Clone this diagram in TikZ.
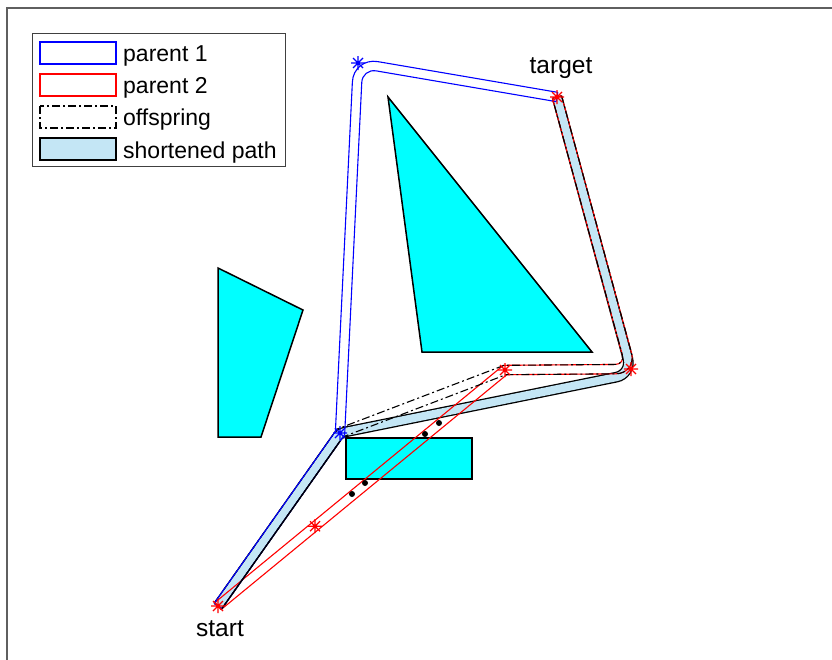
\documentclass[tikz,border=0pt]{standalone}
\usepackage{fontspec}
\setmainfont{Liberation Sans}
\usetikzlibrary{calc}

\definecolor{obst}{RGB}{0,255,255}
\definecolor{pathfill}{RGB}{196,230,245}
\definecolor{framegray}{RGB}{95,95,95}

% left (L) and right (R) offset lines of the segment #2 -> #3
\newcommand\offseg[3]{%
  \coordinate (#1aL) at ($(#2)!4.7pt!90:(#3)$);
  \coordinate (#1bL) at ($(#3)!4.7pt!-90:(#2)$);
  \coordinate (#1aR) at ($(#2)!4.7pt!-90:(#3)$);
  \coordinate (#1bR) at ($(#3)!4.7pt!90:(#2)$);}
% corner points of the offset lines where segment #2 meets segment #3
\newcommand\offcorner[3]{%
  \coordinate (#1L) at (intersection cs: first line={(#2aL)--(#2bL)}, second line={(#3aL)--(#3bL)});
  \coordinate (#1R) at (intersection cs: first line={(#2aR)--(#2bR)}, second line={(#3aR)--(#3bR)});}

\tikzset{
  obstacle/.style={fill=obst, draw=black, line width=1.5pt, line join=miter},
  p1edge/.style={draw=blue, line width=1.1pt},
  p2edge/.style={draw=red, line width=1.1pt},
  offedge/.style={draw=black, line width=1.1pt, dash pattern=on 8pt off 3pt on 2pt off 3pt},
  shortpath/.style={draw=black, line width=1.3pt, double=pathfill, double distance=8.1pt},
  shortedge/.style={draw=black, line width=1.3pt},
  mstar/.pic={\draw[line width=1.3pt] (-7,0) -- (7,0) (0,-7) -- (0,7)
      (-5,-5) -- (5,5) (-5,5) -- (5,-5);},
  dot/.style={circle, fill=black, inner sep=0pt, minimum size=6pt},
  lbl/.style={font=\fontsize{24.5}{28}\selectfont, inner sep=0pt, anchor=base},
  legtext/.style={font=\fontsize{23}{26}\selectfont, inner sep=0pt, anchor=base west},
}

\begin{document}
\begin{tikzpicture}[x=1pt,y=-1pt]
\useasboundingbox (0,0) rectangle (832,659);
\clip (0,0) rectangle (832,659);

% axes frame
\draw[framegray, line width=1.6pt] (7,8) rectangle (860,690);

% obstacles
\draw[obstacle] (218,268) -- (303,310) -- (261,437) -- (218,437) -- cycle;
\draw[obstacle] (388,97) -- (592,352) -- (422,352) -- cycle;
\draw[obstacle] (346,438) rectangle (472,479);

% way points
\coordinate (S) at (218,606);
\coordinate (J) at (340,433);
\coordinate (A) at (358,63);
\coordinate (T) at (557,97);
\coordinate (M) at (505,370);
\coordinate (R) at (631,369);
\coordinate (Rs) at (632,374);
\coordinate (Q) at ($(S)!0.338!(M)$);

% shortened path
\draw[shortpath] (S) [rounded corners=5pt] -- (J) [rounded corners=16pt] -- (Rs) [sharp corners] -- (T);
\offseg{sh1}{S}{J}
\offseg{sh3}{Rs}{T}
\draw[shortedge] (sh1aL) -- (sh1aR);
\draw[shortedge] (sh3bL) -- (sh3bR);

% parent 2
\offseg{pa}{S}{M}
\offseg{pb}{M}{R}
\offseg{pc}{R}{T}
\offcorner{pm}{pa}{pb}
\offcorner{pr}{pb}{pc}
\draw[p2edge] (paaL) -- (pmL) [rounded corners=9.5pt] -- (prL) [sharp corners] -- (pcbL);
\draw[p2edge] (paaR) -- (pmR) [rounded corners=21.7pt] -- (prR) [sharp corners] -- (pcbR);
\draw[p2edge] (paaL) -- (paaR) (pcbL) -- (pcbR);

% offspring
\offseg{oa}{S}{J}
\offseg{ob}{J}{M}
\offseg{oc}{M}{R}
\offseg{od}{R}{T}
\offcorner{oj}{oa}{ob}
\offcorner{om}{ob}{oc}
\offcorner{or}{oc}{od}
\draw[offedge] (oaaL) -- (ojL) -- (omL) [rounded corners=9.5pt] -- (orL) [sharp corners] -- (odbL);
\draw[offedge] (oaaR) -- (ojR) -- (omR) [rounded corners=21.7pt] -- (orR) [sharp corners] -- (odbR);

% parent 1
\offseg{qa}{S}{J}
\offseg{qb}{J}{A}
\offseg{qc}{A}{T}
\offcorner{qj}{qa}{qb}
\offcorner{qA}{qb}{qc}
\draw[p1edge] (qaaL) -- (qjL) [rounded corners=24.5pt] -- (qAL) [sharp corners] -- (qcbL);
\draw[p1edge] (qaaR) -- (qjR) [rounded corners=13.9pt] -- (qAR) [sharp corners] -- (qcbR);
\draw[p1edge] (qaaL) -- (qaaR) (qcbL) -- (qcbR);

% lower edge of the shortened path on top
\draw[shortedge] (sh1aR) -- ($(sh1aR)!0.97!(sh1bR)$);

% collision points
\node[dot] (c1) at (439,423) {};
\node[dot] (c2) at (425,434) {};
\node[dot] (c3) at (365,483) {};
\node[dot] (c4) at (352,494) {};

% markers
\pic[blue] at (A) {mstar};
\pic[blue] at (J) {mstar};
\pic[red] at (T) {mstar};
\pic[red] at (R) {mstar};
\pic[red] at (M) {mstar};
\pic[red] at (Q) {mstar};
\pic[red] at (S) {mstar};

% labels
\node[lbl] (target) at (561,73) {target};
\node[lbl] (start) at (220,636) {start};

% legend
\draw[black!75, line width=1pt, fill=white] (32,33) rectangle (285,166);
\draw[blue, line width=1.1pt] (40,42) rectangle (116,64);
\draw[red, line width=1.1pt] (40,74) rectangle (116,96);
\draw[offedge] (40,106) rectangle (116,128);
\draw[fill=pathfill, line width=1.3pt] (40,138) rectangle (116,160);
\node[legtext] (l1) at (123,61) {parent 1};
\node[legtext] (l2) at (123,93.5) {parent 2};
\node[legtext] (l3) at (123,125.5) {offspring};
\node[legtext] (l4) at (123,158) {shortened path};
\end{tikzpicture}
\end{document}
